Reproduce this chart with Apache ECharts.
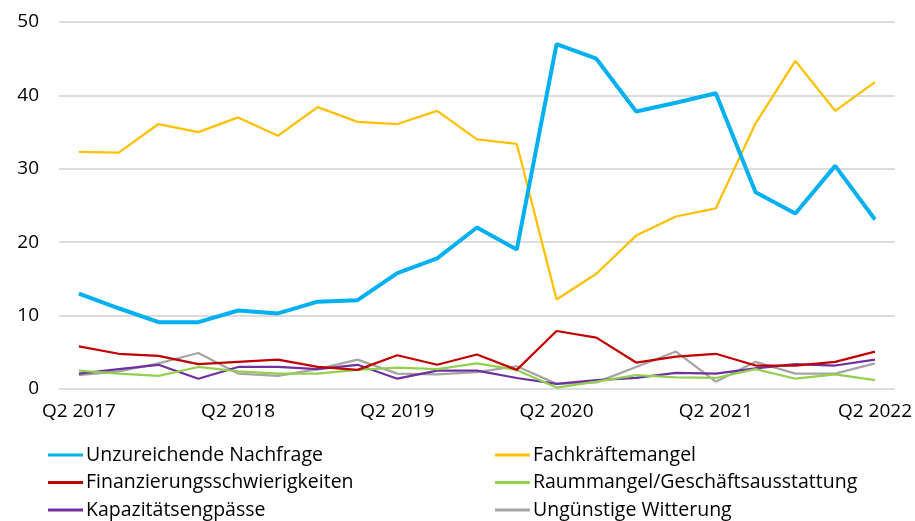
<!DOCTYPE html>
<html><head><meta charset="utf-8">
<script src="https://cdn.jsdelivr.net/npm/echarts@6/dist/echarts.min.js"></script>
<style>html,body{margin:0;padding:0;background:#fff}#c{width:915px;height:521px}</style>
</head><body><div id="c"></div>
<script>
var categories = ['Q2 2017','Q3 2017','Q4 2017','Q1 2018','Q2 2018','Q3 2018','Q4 2018','Q1 2019','Q2 2019','Q3 2019','Q4 2019','Q1 2020','Q2 2020','Q3 2020','Q4 2020','Q1 2021','Q2 2021','Q3 2021','Q4 2021','Q1 2022','Q2 2022'];
var nachfrage = [13.0,11.0,9.1,9.1,10.7,10.3,11.9,12.1,15.8,17.8,22.0,19.0,47.0,45.0,37.8,39.0,40.3,26.8,23.9,30.4,23.1];
var fachkraefte = [32.3,32.2,36.1,35.0,37.0,34.5,38.4,36.4,36.1,37.9,34.0,33.4,12.2,15.7,20.9,23.5,24.6,36.2,44.7,37.9,41.8];
var finanzierung = [5.8,4.8,4.5,3.4,3.7,4.0,3.0,2.6,4.6,3.3,4.7,2.6,7.9,7.0,3.6,4.4,4.8,3.2,3.2,3.7,5.1];
var raummangel = [2.5,2.1,1.8,3.0,2.4,2.1,2.1,2.6,2.9,2.7,3.5,2.6,0.2,1.0,1.9,1.6,1.5,2.7,1.4,2.0,1.2];
var kapazitaet = [2.1,2.7,3.3,1.4,3.0,3.0,2.7,3.3,1.4,2.5,2.5,1.5,0.7,1.2,1.5,2.2,2.1,2.8,3.4,3.2,4.0];
var witterung = [1.9,2.4,3.5,4.9,2.1,1.8,2.7,4.0,2.1,2.0,2.3,3.1,0.7,0.9,3.0,5.1,1.0,3.7,2.1,2.1,3.5];
var yTicks = {min:0, max:50, interval:10};

var FONT = '"Open Sans","Noto Sans",sans-serif';
var names = ['Unzureichende Nachfrage','Fachkräftemangel','Finanzierungsschwierigkeiten','Raummangel/Geschäftsausstattung','Kapazitätsengpässe','Ungünstige Witterung'];
var colors = ['#00B0F0','#FFC000','#C00000','#92D050','#7030A0','#A5A5A5'];
var widths = [4,2.25,2.25,2.25,2.25,2.25];
var datas = [nachfrage,fachkraefte,finanzierung,raummangel,kapazitaet,witterung];

var series = names.map(function(n,i){
  return {name:n,type:'line',data:datas[i],symbol:'none',smooth:false,
    lineStyle:{color:colors[i],width:widths[i]},itemStyle:{color:colors[i]},z:10-i};
});
function leg(left, items){
  return {show:true,orient:'vertical',left:left,top:444.5,height:80,padding:0,itemGap:6.5,itemWidth:35,itemHeight:3,
    icon:'rect',data:items,textStyle:{fontFamily:FONT,fontSize:19.5,lineHeight:21,color:'#000',padding:[0,0,0,-2]},
    selectedMode:false};
}
var chart = echarts.init(document.getElementById('c'),null,{renderer:'canvas'});
chart.setOption({
  animation:false,
  color:colors,
  grid:{left:59,right:20,top:22,bottom:132,containLabel:false},
  legend:[leg(48,[names[0],names[2],names[4]]), leg(495,[names[1],names[3],names[5]])],
  xAxis:{type:'category',data:categories,boundaryGap:true,
    axisLine:{show:false},axisTick:{show:false},
    axisLabel:{interval:3,fontFamily:FONT,fontSize:19,color:'#000',margin:13}},
  yAxis:{type:'value',min:yTicks.min,max:yTicks.max,interval:yTicks.interval,
    axisLine:{show:false},axisTick:{show:false},
    splitLine:{lineStyle:{color:'#D0D0D0',width:1.5}},
    axisLabel:{fontFamily:FONT,fontSize:19,color:'#000',margin:20}},
  series:series
});
</script></body></html>
